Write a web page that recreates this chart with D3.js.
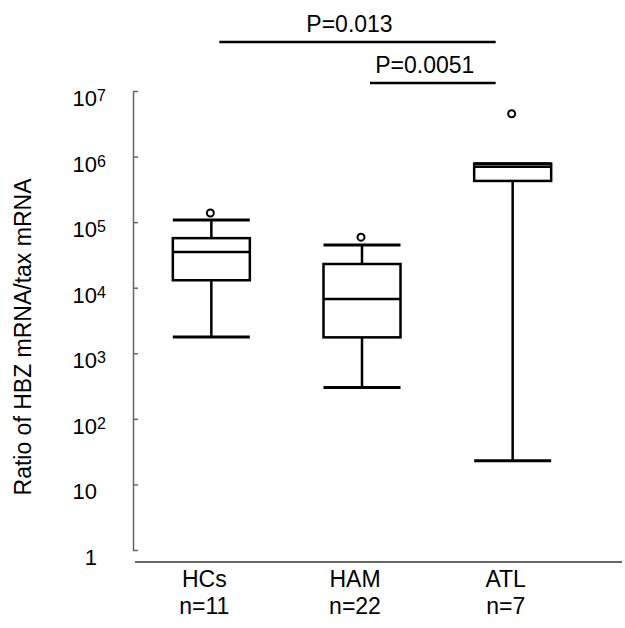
<!DOCTYPE html>
<html>
<head>
<meta charset="utf-8">
<script src="https://cdn.jsdelivr.net/npm/d3@7"></script>
<style>
  body { margin: 0; background: #fff; }
  text { font-family: "Liberation Sans", Arial, sans-serif; fill: #000; }
</style>
</head>
<body>
<svg id="chart"></svg>
<script>
// Data
var categories = ['HCs', 'HAM', 'ATL'];
var counts = [11, 22, 7];
var whiskerLow = [1.77e3, 300, 23];
var q1 = [1.3e4, 1.75e3, 4.25e5];
var medians = [3.5e4, 6.7e3, 7.0e5];
var q3 = [5.7e4, 2.3e4, 7.8e5];
var whiskerHigh = [1.08e5, 4.5e4, 7.8e5];
var outliers = [1.38e5, 5.9e4, 4.5e6];
var yTicks = [1, 10, 1e2, 1e3, 1e4, 1e5, 1e6, 1e7];
var compFrom = ['HCs', 'HAM'];
var compTo = ['ATL', 'ATL'];
var compLabels = ['P=0.013', 'P=0.0051'];

var width = 625;
var height = 628;

var svg = d3.select('#chart')
            .attr('width', width)
            .attr('height', height);

var y = d3.scaleLog()
          .domain([1, 1e7])
          .range([550, 91]);

var x = d3.scaleBand()
          .domain(categories)
          .range([136, 588]);

function cx(c) { return x(c) + x.bandwidth() / 2; }

var boxW = 77;

// y axis (ticks on the right side of the line)
var yAxis = d3.axisRight(y)
              .tickValues(yTicks)
              .tickSizeInner(5)
              .tickSizeOuter(0)
              .tickFormat('');

var yg = svg.append('g')
            .attr('transform', 'translate(133,0)')
            .call(yAxis);
yg.selectAll('path, line').attr('stroke', '#666').attr('stroke-width', 1.5);

// tick labels: 1, 10, 10^n
yTicks.forEach(function (t) {
  var p = Math.round(Math.log10(t));
  var ty = y(t) + 15;
  var base = p >= 2 ? '10' : String(t);
  svg.append('text')
     .attr('x', 97).attr('y', ty)
     .attr('text-anchor', 'end')
     .style('font-size', '22px')
     .text(base);
  if (p >= 2) {
    svg.append('text')
       .attr('x', 97).attr('y', ty - 5)
       .style('font-size', '16px')
       .text(p);
  }
});

// x axis line
svg.append('line')
   .attr('x1', 135).attr('x2', 622)
   .attr('y1', 562).attr('y2', 562)
   .attr('stroke', '#666').attr('stroke-width', 2);

// y label
svg.append('text')
   .attr('transform', 'translate(31,' + 337 + ') rotate(-90)')
   .attr('text-anchor', 'middle')
   .style('font-size', '23px')
   .text('Ratio of HBZ mRNA/tax mRNA');

// boxes
var boxes = svg.selectAll('g.box')
               .data(categories)
               .enter()
                 .append('g')
                 .attr('class', 'box');

boxes.append('line')
     .attr('x1', function (d) { return cx(d); })
     .attr('x2', function (d) { return cx(d); })
     .attr('y1', function (d, i) { return y(whiskerLow[i]); })
     .attr('y2', function (d, i) { return y(whiskerHigh[i]); })
     .attr('stroke', '#000').attr('stroke-width', 2.5);

boxes.append('rect')
     .attr('x', function (d) { return cx(d) - boxW / 2; })
     .attr('width', boxW)
     .attr('y', function (d, i) { return y(q3[i]); })
     .attr('height', function (d, i) { return y(q1[i]) - y(q3[i]); })
     .attr('fill', '#fff')
     .attr('stroke', '#000').attr('stroke-width', 2.5);

boxes.append('line')
     .attr('x1', function (d) { return cx(d) - boxW / 2; })
     .attr('x2', function (d) { return cx(d) + boxW / 2; })
     .attr('y1', function (d, i) { return y(medians[i]); })
     .attr('y2', function (d, i) { return y(medians[i]); })
     .attr('stroke', '#000').attr('stroke-width', 2.5);

// whisker caps
[whiskerLow, whiskerHigh].forEach(function (arr) {
  boxes.append('line')
       .attr('x1', function (d) { return cx(d) - boxW / 2; })
       .attr('x2', function (d) { return cx(d) + boxW / 2; })
       .attr('y1', function (d, i) { return y(arr[i]); })
       .attr('y2', function (d, i) { return y(arr[i]); })
       .attr('stroke', '#000').attr('stroke-width', 3);
});

boxes.append('circle')
     .attr('cx', function (d) { return cx(d) - 1; })
     .attr('cy', function (d, i) { return y(outliers[i]); })
     .attr('r', 3.5)
     .attr('fill', '#fff')
     .attr('stroke', '#000').attr('stroke-width', 2);

// category labels
boxes.append('text')
     .attr('x', function (d) { return cx(d) - 7; })
     .attr('y', 587)
     .attr('text-anchor', 'middle')
     .style('font-size', '23px')
     .text(function (d) { return d; });

boxes.append('text')
     .attr('x', function (d) { return cx(d) - 7; })
     .attr('y', 614)
     .attr('text-anchor', 'middle')
     .style('font-size', '23px')
     .text(function (d, i) { return 'n=' + counts[i]; });

// significance brackets
var bracketY = [42, 83];
compLabels.forEach(function (lab, i) {
  var x1 = cx(compFrom[i]) + 8;
  var x2 = cx(compTo[i]) - 17;
  svg.append('line')
     .attr('x1', x1).attr('x2', x2)
     .attr('y1', bracketY[i]).attr('y2', bracketY[i])
     .attr('stroke', '#000').attr('stroke-width', 2.5);
  svg.append('text')
     .attr('x', (x1 + x2) / 2 - 8)
     .attr('y', bracketY[i] - 10)
     .attr('text-anchor', 'middle')
     .style('font-size', '23px')
     .text(lab);
});
</script>
</body>
</html>
